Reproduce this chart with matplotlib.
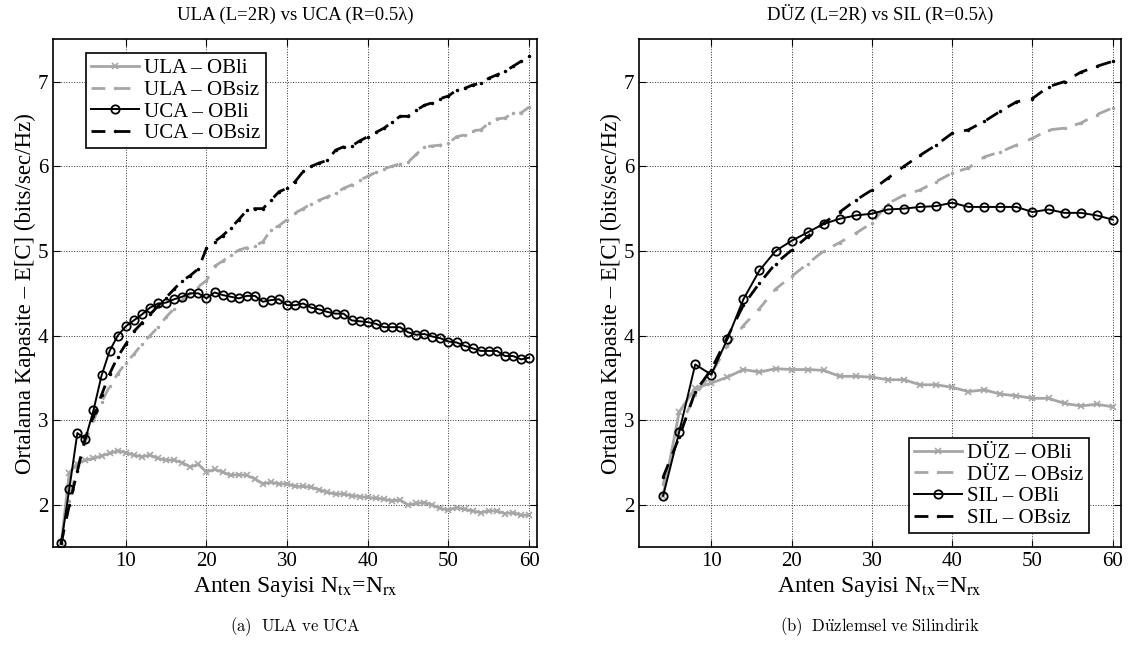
import numpy as np
import matplotlib
matplotlib.use('Agg')
import matplotlib.pyplot as plt

plt.rcParams['font.family'] = ['Liberation Serif', 'DejaVu Serif']
plt.rcParams['mathtext.fontset'] = 'stix'

# ---- left panel: ULA vs UCA, every antenna count 2..60
n_left = list(range(2, 61))
ula_obli = [1.55, 2.38, 2.49, 2.53, 2.55, 2.58, 2.61, 2.64, 2.62, 2.59,
            2.57, 2.59, 2.55, 2.53, 2.53, 2.50, 2.45, 2.48, 2.39, 2.42,
            2.39, 2.35, 2.36, 2.35, 2.31, 2.25, 2.27, 2.25, 2.25, 2.22,
            2.22, 2.21, 2.18, 2.15, 2.13, 2.13, 2.11, 2.10, 2.09, 2.08,
            2.07, 2.05, 2.06, 2.00, 2.02, 2.03, 2.00, 1.96, 1.94, 1.97,
            1.95, 1.93, 1.91, 1.93, 1.93, 1.90, 1.91, 1.88, 1.88]
ula_obsiz = [1.55, 2.05, 2.45, 2.75, 3.00, 3.22, 3.40, 3.55, 3.68, 3.78,
             3.90, 4.00, 4.10, 4.22, 4.32, 4.42, 4.50, 4.58, 4.65, 4.82,
             4.88, 4.95, 5.01, 5.04, 5.06, 5.11, 5.25, 5.30, 5.37, 5.45,
             5.50, 5.56, 5.60, 5.64, 5.68, 5.74, 5.78, 5.84, 5.88, 5.93,
             5.97, 6.00, 6.03, 6.05, 6.14, 6.23, 6.24, 6.25, 6.27, 6.35,
             6.37, 6.42, 6.43, 6.51, 6.56, 6.57, 6.63, 6.63, 6.70]
uca_obli = [1.55, 2.19, 2.85, 2.78, 3.12, 3.53, 3.82, 4.00, 4.11, 4.18,
            4.25, 4.33, 4.38, 4.39, 4.43, 4.46, 4.50, 4.50, 4.44, 4.51,
            4.48, 4.46, 4.44, 4.47, 4.47, 4.40, 4.42, 4.43, 4.36, 4.36,
            4.38, 4.33, 4.31, 4.28, 4.26, 4.26, 4.18, 4.17, 4.16, 4.14,
            4.10, 4.10, 4.10, 4.04, 4.01, 4.02, 3.99, 3.97, 3.93, 3.92,
            3.88, 3.85, 3.82, 3.82, 3.82, 3.76, 3.76, 3.72, 3.74]
uca_obsiz = [1.55, 2.00, 2.40, 2.80, 3.05, 3.30, 3.55, 3.75, 3.90, 4.05,
             4.15, 4.25, 4.35, 4.45, 4.55, 4.65, 4.71, 4.79, 5.03, 5.11,
             5.18, 5.27, 5.37, 5.48, 5.50, 5.50, 5.60, 5.70, 5.74, 5.82,
             5.94, 6.00, 6.04, 6.07, 6.19, 6.23, 6.24, 6.30, 6.35, 6.40,
             6.45, 6.52, 6.59, 6.59, 6.66, 6.72, 6.75, 6.80, 6.83, 6.90,
             6.92, 6.96, 6.98, 7.04, 7.08, 7.12, 7.18, 7.24, 7.30]

# ---- right panel: planar vs cylindrical, even antenna counts 4..60
n_right = list(range(4, 61, 2))
duz_obli = [2.11, 3.10, 3.38, 3.44, 3.51, 3.60, 3.57, 3.61, 3.60, 3.60,
            3.59, 3.52, 3.52, 3.51, 3.48, 3.48, 3.42, 3.42, 3.39, 3.34,
            3.36, 3.31, 3.29, 3.26, 3.26, 3.20, 3.17, 3.19, 3.16]
duz_obsiz = [2.25, 2.90, 3.30, 3.55, 3.88, 4.12, 4.32, 4.55, 4.70, 4.85,
             5.00, 5.10, 5.21, 5.33, 5.56, 5.66, 5.72, 5.82, 5.92, 5.98,
             6.11, 6.17, 6.25, 6.33, 6.43, 6.45, 6.51, 6.61, 6.69]
sil_obli = [2.11, 2.86, 3.66, 3.54, 3.96, 4.43, 4.77, 5.00, 5.12, 5.22,
            5.32, 5.38, 5.42, 5.44, 5.49, 5.50, 5.52, 5.53, 5.57, 5.52,
            5.52, 5.52, 5.52, 5.46, 5.49, 5.45, 5.45, 5.42, 5.37]
sil_obsiz = [2.33, 2.80, 3.34, 3.60, 3.98, 4.36, 4.62, 4.85, 5.01, 5.17,
             5.33, 5.46, 5.60, 5.72, 5.86, 6.00, 6.13, 6.25, 6.39, 6.43,
             6.53, 6.65, 6.76, 6.80, 6.94, 7.00, 7.11, 7.18, 7.24]

titles = ['ULA (L=2R) vs UCA (R=0.5λ)', 'DÜZ (L=2R) vs SIL (R=0.5λ)']
captions = [r'$\mathrm{(a)\ \ ULA\ ve\ UCA}$',
            r'$\mathrm{(b)\ \ D\ddot{u}zlemsel\ ve\ Silindirik}$']
ylab = 'Ortalama Kapasite – E[C] (bits/sec/Hz)'
xlab = r'Anten Sayisi N$_{\mathrm{tx}}$=N$_{\mathrm{rx}}$'

GRAY = '#a6a6a6'

fig = plt.figure(figsize=(11.31, 6.54), dpi=100)
ax1 = fig.add_axes([0.047, 0.163, 0.428, 0.777])
ax2 = fig.add_axes([0.565, 0.163, 0.426, 0.777])


def draw(ax, n, obli_g, obsiz_g, obli_k, obsiz_k, names):
    ax.plot(n, obli_g, color=GRAY, lw=2, marker='x', ms=4, mew=1.2, label=names[0])
    ax.plot(n, obsiz_g, color=GRAY, lw=2, ls='--', dashes=(5, 4), marker='.', ms=3, label=names[1])
    ax.plot(n, obli_k, color='k', lw=1.4, marker='o', ms=6, mfc='none', mew=1.3, label=names[2])
    ax.plot(n, obsiz_k, color='k', lw=2, ls='--', dashes=(5, 4), marker='.', ms=3, label=names[3])
    ax.set_xlim(1, 61)
    ax.set_ylim(1.5, 7.5)
    ax.set_xticks([10, 20, 30, 40, 50, 60])
    ax.set_yticks([2, 3, 4, 5, 6, 7])
    ax.grid(True, color='k', ls=':', lw=0.7, alpha=0.8)
    ax.tick_params(direction='in', top=True, right=True, labelsize=15, length=5)
    for s in ax.spines.values():
        s.set_linewidth(1.2)
    ax.set_xlabel(xlab, fontsize=17, labelpad=3)
    ax.set_ylabel(ylab, fontsize=16.5, labelpad=1)


draw(ax1, n_left, ula_obli, ula_obsiz, uca_obli, uca_obsiz,
     ['ULA – OBli', 'ULA – OBsiz', 'UCA – OBli', 'UCA – OBsiz'])
draw(ax2, n_right, duz_obli, duz_obsiz, sil_obli, sil_obsiz,
     ['DÜZ – OBli', 'DÜZ – OBsiz', 'SIL – OBli', 'SIL – OBsiz'])

leg_kw = dict(fontsize=15, fancybox=False, edgecolor='k', framealpha=1,
              handlelength=2.3, borderpad=0.25, labelspacing=0.1,
              handletextpad=0.25, borderaxespad=0)
l1 = ax1.legend(loc='upper left', bbox_to_anchor=(0.068, 0.972), **leg_kw)
l2 = ax2.legend(loc='lower right', bbox_to_anchor=(0.933, 0.028), **leg_kw)
for l in (l1, l2):
    l.get_frame().set_linewidth(1.2)

for ax, t, c in zip([ax1, ax2], titles, captions):
    ax.set_title(t, fontsize=13.5, pad=14)
    ax.text(0.5, -0.155, c, transform=ax.transAxes, ha='center', va='center',
            fontsize=12, math_fontfamily='cm')

fig.savefig('out.png', dpi=100)
